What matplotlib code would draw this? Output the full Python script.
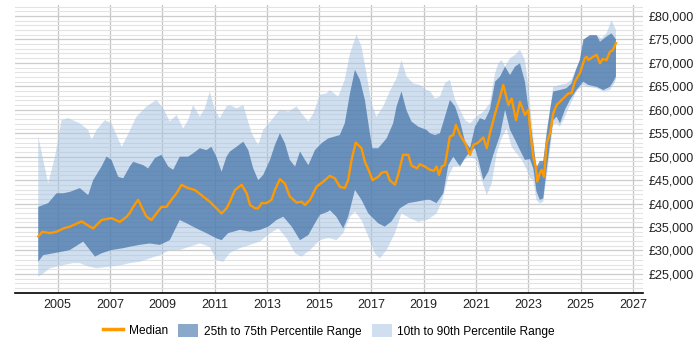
import numpy as np
import matplotlib
matplotlib.use("Agg")
import matplotlib.pyplot as plt
from matplotlib.ticker import FuncFormatter, MultipleLocator
from matplotlib.patches import Patch
from matplotlib.lines import Line2D

plt.rcParams['font.family'] = ['Liberation Sans', 'DejaVu Sans']

# (year, salary in £000s)
median = [(2004.26, 33.0), (2004.42, 34.0), (2004.70, 33.7), (2004.96, 34.0), (2005.22, 34.7), (2005.47, 35.1),
          (2005.92, 36.2), (2006.23, 35.1), (2006.36, 34.7), (2006.68, 36.5), (2007.06, 36.9), (2007.38, 36.1),
          (2007.64, 37.2), (2007.76, 38.0), (2007.89, 39.3), (2008.08, 40.8), (2008.27, 38.6), (2008.40, 37.2),
          (2008.59, 36.5), (2008.78, 37.9), (2008.97, 39.3), (2009.16, 39.3), (2009.35, 40.8), (2009.55, 42.2),
          (2009.74, 44.0), (2009.99, 43.3), (2010.25, 42.9), (2010.50, 41.8), (2010.82, 40.4), (2011.07, 39.0),
          (2011.27, 37.9), (2011.46, 39.0), (2011.59, 40.4), (2011.78, 42.9), (2012.04, 44.0), (2012.23, 42.2),
          (2012.36, 39.7), (2012.55, 39.0), (2012.67, 39.0), (2012.80, 40.1), (2012.99, 40.1), (2013.18, 40.8),
          (2013.31, 42.9), (2013.50, 45.2), (2013.69, 44.3), (2013.88, 41.5), (2014.14, 40.2), (2014.33, 40.4),
          (2014.46, 39.7), (2014.65, 40.8), (2014.90, 43.6), (2015.16, 44.7), (2015.41, 45.9), (2015.60, 45.4),
          (2015.79, 43.6), (2015.98, 43.3), (2016.11, 45.0), (2016.24, 49.3), (2016.40, 53.0), (2016.62, 51.8),
          (2016.75, 48.9), (2016.94, 46.5), (2017.04, 45.0), (2017.26, 45.7), (2017.39, 46.6), (2017.58, 46.8),
          (2017.70, 45.0), (2017.90, 44.0), (2018.02, 46.1), (2018.21, 50.4), (2018.41, 50.4), (2018.53, 48.1),
          (2018.75, 47.5), (2018.85, 48.4), (2019.04, 47.9), (2019.24, 47.2), (2019.39, 47.0), (2019.49, 47.9),
          (2019.58, 46.1), (2019.69, 47.9), (2019.81, 48.2), (2020.00, 54.3), (2020.13, 54.6), (2020.23, 56.8),
          (2020.39, 54.6), (2020.58, 52.9), (2020.77, 50.4), (2020.90, 52.5), (2021.08, 53.0), (2021.28, 54.1),
          (2021.41, 51.8), (2021.53, 55.0), (2021.73, 59.2), (2021.92, 62.8), (2022.04, 65.3), (2022.24, 61.0),
          (2022.36, 62.4), (2022.53, 57.8), (2022.68, 61.7), (2022.87, 58.9), (2023.00, 60.0), (2023.08, 55.0),
          (2023.19, 50.0), (2023.29, 47.7), (2023.34, 44.7), (2023.44, 46.5), (2023.51, 47.2), (2023.60, 45.7),
          (2023.70, 52.9), (2023.83, 55.0), (2023.95, 59.2), (2024.08, 61.0), (2024.33, 62.4), (2024.53, 63.5),
          (2024.65, 63.5), (2024.78, 66.0), (2024.97, 67.8), (2025.16, 71.0), (2025.23, 71.3), (2025.29, 70.6),
          (2025.48, 71.3), (2025.61, 71.7), (2025.74, 69.9), (2025.84, 70.8), (2025.99, 70.6), (2026.12, 72.4),
          (2026.22, 72.6), (2026.35, 74.2)]

p75 = [(2004.26, 39.3), (2004.64, 40.1), (2004.96, 42.2), (2005.22, 42.2), (2005.47, 42.5), (2005.85, 43.3),
       (2006.17, 41.8), (2006.36, 45.0), (2006.68, 47.9), (2006.87, 50.0), (2007.06, 49.3), (2007.32, 45.7),
       (2007.51, 45.4), (2007.76, 47.9), (2007.89, 48.9), (2008.27, 48.2), (2008.46, 47.5), (2008.72, 49.7),
       (2008.97, 50.4), (2009.23, 47.9), (2009.42, 47.2), (2009.67, 50.0), (2009.99, 50.0), (2010.18, 50.7),
       (2010.44, 51.8), (2010.69, 51.4), (2010.88, 52.1), (2011.07, 50.0), (2011.27, 46.8), (2011.46, 50.0),
       (2011.59, 51.1), (2011.84, 52.1), (2012.10, 53.2), (2012.29, 51.4), (2012.48, 47.5), (2012.67, 45.0),
       (2012.86, 46.1), (2013.12, 49.3), (2013.31, 52.5), (2013.50, 55.0), (2013.69, 52.9), (2013.88, 49.3),
       (2014.08, 47.9), (2014.27, 51.1), (2014.46, 49.3), (2014.59, 48.2), (2014.84, 51.4), (2015.10, 52.9),
       (2015.35, 53.9), (2015.79, 54.6), (2015.98, 57.1), (2016.18, 63.5), (2016.37, 68.5), (2016.56, 66.4),
       (2016.75, 62.1), (2016.94, 55.0), (2017.04, 51.8), (2017.26, 51.8), (2017.58, 53.9), (2017.83, 57.1),
       (2017.96, 60.7), (2018.15, 63.9), (2018.34, 59.9), (2018.53, 57.5), (2018.79, 56.4), (2019.11, 55.7),
       (2019.24, 55.0), (2019.43, 54.6), (2019.62, 55.0), (2019.81, 58.5), (2020.00, 62.1), (2020.20, 60.7),
       (2020.39, 57.5), (2020.58, 53.2), (2020.77, 51.8), (2020.96, 56.4), (2021.15, 58.2), (2021.34, 57.8),
       (2021.53, 60.0), (2021.73, 66.0), (2021.92, 67.1), (2022.11, 69.2), (2022.30, 67.4), (2022.49, 69.2),
       (2022.68, 69.9), (2022.87, 66.0), (2023.06, 57.8), (2023.19, 52.7), (2023.31, 47.7), (2023.44, 49.1),
       (2023.57, 49.1), (2023.70, 54.8), (2023.83, 59.9), (2023.95, 63.9), (2024.21, 64.2), (2024.46, 64.6),
       (2024.65, 65.6), (2024.84, 68.8), (2024.97, 70.6), (2025.10, 74.9), (2025.35, 75.9), (2025.61, 75.9),
       (2025.74, 74.5), (2025.99, 75.6), (2026.18, 76.3), (2026.35, 75.0)]

p25 = [(2004.26, 27.6), (2004.45, 29.0), (2004.83, 29.4), (2005.22, 29.8), (2005.47, 30.1), (2005.98, 31.9),
       (2006.43, 28.7), (2006.68, 29.4), (2007.06, 30.1), (2007.51, 30.5), (2007.76, 30.8), (2008.14, 31.2),
       (2008.52, 31.5), (2008.91, 31.2), (2009.29, 32.2), (2009.67, 36.5), (2009.93, 35.8), (2010.31, 34.7),
       (2010.69, 33.7), (2011.07, 32.6), (2011.27, 32.2), (2011.52, 33.7), (2011.97, 34.4), (2012.36, 34.0),
       (2012.74, 34.4), (2013.06, 35.1), (2013.37, 36.5), (2013.63, 37.2), (2013.95, 35.1), (2014.27, 32.2),
       (2014.59, 33.3), (2014.84, 35.8), (2015.03, 37.6), (2015.35, 38.3), (2015.41, 38.6), (2015.66, 37.2),
       (2015.92, 34.7), (2016.11, 37.2), (2016.37, 42.9), (2016.62, 40.8), (2016.88, 37.9), (2017.26, 35.8),
       (2017.51, 35.1), (2017.77, 36.2), (2018.09, 39.0), (2018.41, 40.1), (2018.72, 40.4), (2019.11, 40.8),
       (2019.24, 40.8), (2019.49, 40.1), (2019.75, 42.2), (2019.94, 48.2), (2020.13, 50.0), (2020.39, 47.9),
       (2020.58, 49.7), (2020.77, 51.1), (2020.96, 51.8), (2021.09, 49.3), (2021.28, 45.0), (2021.47, 46.8),
       (2021.66, 50.4), (2021.92, 54.6), (2022.11, 60.0), (2022.30, 55.7), (2022.49, 53.6), (2022.68, 51.4),
       (2022.87, 49.3), (2023.06, 49.5), (2023.19, 47.5), (2023.31, 42.6), (2023.44, 40.8), (2023.57, 41.1),
       (2023.70, 47.2), (2023.83, 52.9), (2023.95, 57.8), (2024.08, 58.5), (2024.21, 57.1), (2024.40, 60.0),
       (2024.59, 62.1), (2024.84, 64.2), (2025.10, 66.0), (2025.29, 65.3), (2025.61, 64.9), (2025.87, 64.2),
       (2026.12, 64.9), (2026.25, 66.0), (2026.35, 67.1)]

p90 = [(2004.26, 54.3), (2004.64, 44.3), (2004.90, 50.0), (2005.15, 57.8), (2005.41, 58.2), (2005.85, 57.1),
       (2006.17, 55.7), (2006.30, 53.6), (2006.49, 55.7), (2006.81, 57.8), (2007.06, 57.1), (2007.45, 52.1),
       (2007.76, 55.5), (2008.01, 58.5), (2008.40, 60.7), (2008.78, 62.1), (2009.04, 60.3), (2009.29, 57.5),
       (2009.55, 58.9), (2009.80, 56.0), (2009.99, 57.8), (2010.18, 61.0), (2010.44, 58.5), (2010.63, 60.3),
       (2010.82, 63.9), (2011.01, 60.0), (2011.20, 58.2), (2011.46, 60.7), (2011.59, 61.0), (2011.84, 60.3),
       (2012.10, 61.0), (2012.23, 58.5), (2012.42, 55.0), (2012.67, 52.5), (2012.86, 55.7), (2013.18, 57.8),
       (2013.50, 60.0), (2013.82, 59.6), (2014.14, 60.7), (2014.33, 59.2), (2014.59, 57.5), (2014.78, 59.2),
       (2015.03, 63.2), (2015.29, 63.5), (2015.41, 64.2), (2015.73, 62.8), (2015.98, 66.4), (2016.18, 72.0),
       (2016.43, 76.0), (2016.62, 73.5), (2016.81, 67.8), (2017.00, 61.4), (2017.19, 58.5), (2017.45, 60.7),
       (2017.70, 63.9), (2017.96, 66.7), (2018.15, 70.6), (2018.34, 67.1), (2018.60, 65.6), (2018.85, 65.3),
       (2019.11, 64.2), (2019.24, 64.0), (2019.43, 62.4), (2019.62, 62.8), (2019.81, 65.6), (2020.00, 66.4),
       (2020.20, 62.1), (2020.39, 60.0), (2020.58, 57.8), (2020.77, 57.1), (2021.02, 58.5), (2021.28, 59.6),
       (2021.53, 61.4), (2021.73, 67.8), (2021.85, 69.9), (2021.98, 70.6), (2022.11, 69.2), (2022.30, 71.0),
       (2022.49, 71.7), (2022.68, 72.8), (2022.87, 70.6), (2023.00, 64.9), (2023.19, 54.3), (2023.31, 47.2),
       (2023.44, 47.9), (2023.57, 48.6), (2023.70, 55.7), (2023.83, 59.9), (2023.95, 64.9), (2024.21, 65.3),
       (2024.46, 65.6), (2024.65, 66.4), (2024.78, 68.1), (2024.97, 70.6), (2025.16, 75.2), (2025.42, 75.9),
       (2025.61, 75.9), (2025.80, 75.2), (2025.99, 76.3), (2026.18, 79.1), (2026.35, 77.0)]

p10 = [(2004.26, 24.4), (2004.45, 25.1), (2004.70, 26.2), (2005.22, 26.9), (2005.60, 27.3), (2005.85, 27.3),
       (2006.17, 26.6), (2006.49, 26.2), (2007.06, 26.6), (2007.45, 26.9), (2007.76, 27.3), (2008.14, 27.6),
       (2008.52, 28.3), (2008.91, 29.0), (2009.29, 30.1), (2009.67, 30.1), (2010.05, 30.8), (2010.44, 31.5),
       (2010.82, 30.8), (2011.07, 28.0), (2011.33, 27.6), (2011.59, 29.5), (2011.97, 30.5), (2012.36, 31.2),
       (2012.74, 31.9), (2013.12, 33.7), (2013.44, 34.7), (2013.76, 32.6), (2014.08, 29.4), (2014.33, 28.7),
       (2014.65, 30.1), (2015.03, 32.2), (2015.29, 32.6), (2015.41, 32.6), (2015.66, 32.2), (2015.92, 33.7),
       (2016.18, 37.2), (2016.37, 38.3), (2016.62, 36.5), (2016.88, 33.0), (2017.13, 29.4), (2017.32, 28.3),
       (2017.58, 30.1), (2017.90, 33.7), (2018.15, 37.9), (2018.47, 36.9), (2018.79, 36.1), (2019.11, 36.5),
       (2019.24, 36.9), (2019.49, 37.9), (2019.69, 40.4), (2019.94, 45.7), (2020.13, 47.9), (2020.32, 47.9),
       (2020.51, 49.3), (2020.77, 50.0), (2021.02, 49.3), (2021.22, 45.0), (2021.41, 41.8), (2021.60, 44.3),
       (2021.79, 50.7), (2021.98, 53.9), (2022.17, 56.0), (2022.36, 52.1), (2022.55, 50.7), (2022.75, 49.3),
       (2022.94, 47.2), (2023.06, 45.4), (2023.19, 45.0), (2023.31, 40.8), (2023.44, 40.0), (2023.57, 40.4),
       (2023.70, 45.7), (2023.83, 51.4), (2023.95, 56.8), (2024.08, 57.1), (2024.21, 56.4), (2024.40, 58.5),
       (2024.59, 61.0), (2024.84, 63.9), (2025.10, 65.3), (2025.29, 64.9), (2025.61, 64.6), (2025.87, 63.9),
       (2026.12, 64.2), (2026.25, 65.3), (2026.35, 66.4)]

year_ticks = list(range(2005, 2028, 2))

light = '#a9c5e3'
dark = '#3d6fa6'
orange = '#ff9900'


def band(ax, upper, lower, **kw):
    ux, uy = np.array(upper).T
    lx, ly = np.array(lower).T
    ax.fill(np.concatenate([ux, lx[::-1]]), np.concatenate([uy, ly[::-1]]), lw=0, **kw)


fig = plt.figure(figsize=(7, 3.5), dpi=100)
ax = fig.add_axes([0.0214, 0.163, 0.897, 0.823])

band(ax, p90, p10, color=light, alpha=0.55, zorder=2)
band(ax, p75, p25, color=dark, alpha=0.7, zorder=3)
mx, my = np.array(median).T
ax.plot(mx, my, color=orange, lw=1.7, zorder=4)

ax.set_xlim(2003.37, 2027.38)
ax.set_ylim(20.95, 82.35)
ax.set_xticks(year_ticks)
ax.yaxis.set_major_locator(MultipleLocator(5))
ax.yaxis.set_minor_locator(MultipleLocator(1))
ax.yaxis.tick_right()
ax.yaxis.set_major_formatter(FuncFormatter(lambda v, p: '£{:,.0f}'.format(v * 1000)))
ax.grid(axis='y', which='major', color='#cccccc', lw=0.9, zorder=1)
ax.grid(axis='y', which='minor', color='#e3e3e3', lw=0.8, zorder=1)
ax.grid(axis='x', which='major', color='#c4c4c4', lw=0.9, zorder=1)
ax.set_axisbelow(True)
ax.tick_params(axis='both', which='both', length=0, labelsize=9, colors='#222222')
ax.tick_params(axis='y', pad=4)
ax.tick_params(axis='x', pad=4)
for s in ['top', 'left', 'right']:
    ax.spines[s].set_visible(False)
ax.spines['bottom'].set_color('#000000')
ax.spines['bottom'].set_linewidth(1.2)

handles = [Line2D([0], [0], color=orange, lw=2.5),
           Patch(facecolor=dark, alpha=0.6, lw=0),
           Patch(facecolor=light, alpha=0.55, lw=0)]
labels = ['Median', '25th to 75th Percentile Range', '10th to 90th Percentile Range']
fig.legend(handles, labels, loc='lower center', bbox_to_anchor=(0.47, 0.005), ncol=3,
           frameon=False, fontsize=8.6, handlelength=1.7, handleheight=1.2, columnspacing=0.85,
           handletextpad=0.45)

fig.savefig('out.png', dpi=100)
